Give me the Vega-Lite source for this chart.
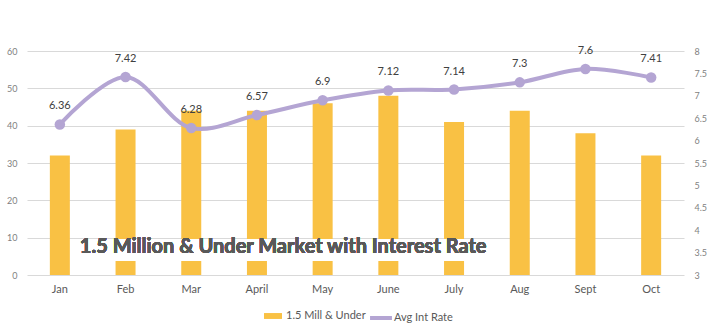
{
  "$schema": "https://vega.github.io/schema/vega-lite/v6.json",
  "width": 657,
  "height": 224,
  "autosize": {"type": "none"},
  "padding": {"left": 27, "top": 51, "right": 30, "bottom": 61},
  "background": "white",
  "config": {
    "font": "Lato",
    "view": {"stroke": null},
    "axis": {"domain": false, "ticks": false, "labelFont": "Lato", "titleFont": "Lato", "labelOverlap": false},
    "axisLeft": {"tickCount": 7},
    "axisRight": {"tickCount": 11},
    "legend": {"labelFont": "Lato", "labelFontSize": 11, "labelColor": "#595959"}
  },
  "data": {
    "values": [
      {"month": "Jan", "units": 32, "rate": 6.36},
      {"month": "Feb", "units": 39, "rate": 7.42},
      {"month": "Mar", "units": 44, "rate": 6.28},
      {"month": "April", "units": 44, "rate": 6.57},
      {"month": "May", "units": 46, "rate": 6.9},
      {"month": "June", "units": 48, "rate": 7.12},
      {"month": "July", "units": 41, "rate": 7.14},
      {"month": "Aug", "units": 44, "rate": 7.3},
      {"month": "Sept", "units": 38, "rate": 7.6},
      {"month": "Oct", "units": 32, "rate": 7.41}
    ]
  },
  "encoding": {
    "x": {
      "field": "month", "type": "nominal", "sort": null, "title": null,
      "axis": {"labelAngle": 0, "labelFontSize": 11, "labelColor": "#595959", "labelPadding": 8, "grid": false}
    }
  },
  "layer": [
    {
      "layer": [
        {
          "mark": {"type": "bar", "size": 20},
          "encoding": {
            "y": {
              "field": "units", "type": "quantitative", "title": null,
              "scale": {"domain": [0, 60]},
              "axis": {"values": [0, 10, 20, 30, 40, 50, 60], "labelFontSize": 9, "labelColor": "#7f7f7f", "gridColor": "#d9d9d9", "labelPadding": 10}
            },
            "fill": {
              "datum": "1.5 Mill & Under", "type": "nominal",
              "scale": {"range": ["#f9c144"]},
              "legend": {"title": null, "orient": "none", "legendX": 235, "legendY": 254, "symbolType": "M-0.82,-0.27H0.82V0.27H-0.82Z", "symbolSize": 480, "symbolStrokeWidth": 0, "labelOffset": 2}
            }
          }
        },
        {
          "mark": {"type": "rect", "fill": "white"},
          "encoding": {
            "x": {"datum": "Jan", "bandPosition": 0.74},
            "x2": {"datum": "Aug", "bandPosition": 0.08},
            "y": {"datum": 9.6, "type": "quantitative", "scale": {"domain": [0, 60]}, "axis": {"values": [0, 10, 20, 30, 40, 50, 60], "labelFontSize": 9, "labelColor": "#7f7f7f", "gridColor": "#d9d9d9", "labelPadding": 10}},
            "y2": {"datum": 3.75}
          }
        },
        {
          "mark": {"type": "text", "text": "1.5 Million & Under Market with Interest Rate", "align": "left", "baseline": "middle", "fontSize": 20, "fontWeight": "bold", "color": "#595959", "dx": 20},
          "encoding": {
            "x": {"datum": "Jan"},
            "y": {"datum": 7.5, "type": "quantitative", "scale": {"domain": [0, 60]}, "axis": {"values": [0, 10, 20, 30, 40, 50, 60], "labelFontSize": 9, "labelColor": "#7f7f7f", "gridColor": "#d9d9d9", "labelPadding": 10}}
          }
        }
      ]
    },
    {
      "encoding": {
        "y": {
          "field": "rate", "type": "quantitative", "title": null,
          "scale": {"domain": [3, 8]},
          "axis": {"orient": "right", "values": [3, 3.5, 4, 4.5, 5, 5.5, 6, 6.5, 7, 7.5, 8], "format": "~g", "grid": false, "labelFontSize": 9, "labelColor": "#7f7f7f", "labelPadding": 10}
        }
      },
      "layer": [
        {
          "mark": {"type": "line", "interpolate": "catmull-rom", "strokeWidth": 4},
          "encoding": {
            "stroke": {
              "datum": "Avg Int Rate", "type": "nominal",
              "scale": {"range": ["#b4a5d3"]},
              "legend": {"title": null, "orient": "none", "legendX": 341, "legendY": 254, "symbolType": "stroke", "symbolStrokeWidth": 4, "symbolSize": 480, "labelOffset": 0}
            }
          }
        },
        {
          "mark": {"type": "point", "filled": true, "size": 110, "color": "#b4a5d3", "opacity": 1}
        },
        {
          "mark": {"type": "text", "dy": -18, "fontSize": 11, "color": "#404040"},
          "encoding": {"text": {"field": "rate", "type": "quantitative"}}
        }
      ]
    }
  ],
  "resolve": {"scale": {"y": "independent", "fill": "independent", "stroke": "independent"}, "legend": {"fill": "independent", "stroke": "independent"}}
}
